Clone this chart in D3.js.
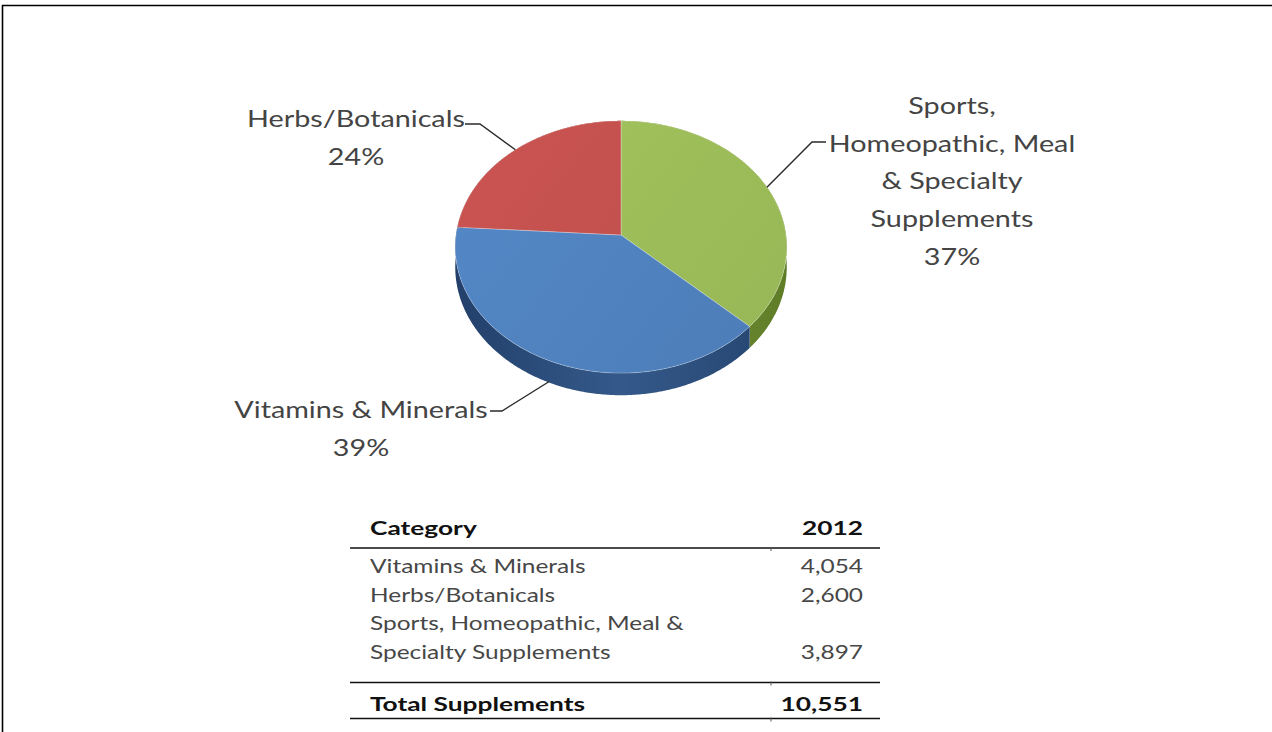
<!DOCTYPE html>
<html>
<head>
<meta charset="utf-8">
<script src="https://cdn.jsdelivr.net/npm/d3@7/dist/d3.min.js"></script>
<style>
  html, body { margin: 0; padding: 0; background: #fff; }
  svg { display: block; }
</style>
</head>
<body>
<svg id="chart" width="1272" height="732"></svg>
<script>
// ---- data -------------------------------------------------------------
const categories = ["Vitamins & Minerals", "Herbs/Botanicals", "Sports, Homeopathic, Meal & Specialty Supplements"];
const values2012 = [4054, 2600, 3897];
const sharePct = [39, 24, 37];                 // shares printed on the pie labels
const pieOrder = [2, 0, 1];                    // clockwise from 12 o'clock
const pieLabelLines = [
  ["Vitamins & Minerals"],
  ["Herbs/Botanicals"],
  ["Sports,", "Homeopathic, Meal", "& Specialty", "Supplements"]
];
const tableRowLines = [
  ["Vitamins & Minerals"],
  ["Herbs/Botanicals"],
  ["Sports, Homeopathic, Meal &", "Specialty Supplements"]
];
const tableHeader = ["Category", "2012"];
const totalLabel = "Total Supplements";

// ---- styling ----------------------------------------------------------
const topColors  = ["#4f81bd", "#c0504d", "#9bbb59"];
const sideColors = [["#22406a", "#34598a", "#25446e"], ["#7d2d2b", "#9a3b38", "#7d2d2b"], ["#5d7a25", "#7b9a3c", "#5f7c27"]];
const FONT = "Lato, 'Open Sans', sans-serif";
const SX_LABEL = 1.25;                         // horizontal stretch of the lettering
const SX_TABLE = 1.30;
const SX_TABLE_BOLD = 1.40;

const svg = d3.select("#chart");
const defs = svg.append("defs");

// frame
svg.append("path")
  .attr("d", "M2.5,732 V5.5 H1272")
  .attr("fill", "none").attr("stroke", "#000").attr("stroke-width", 1.6);

// ---- 3-D pie with perspective ----------------------------------------
const CX = 621, CY = 235, RX = 165, RY = 125, P = 0.095, DEPTH = 20;
function proj(a, dz = 0) {
  const u = Math.sin(a), v = -Math.cos(a);
  const k = 1 / (1 - P * v);
  return [CX + RX * u * k, CY + RY * v * k + dz * k];
}
function arcPts(a0, a1, dz) {
  const n = Math.max(2, Math.ceil((a1 - a0) / 0.01));
  return d3.range(n + 1).map(i => proj(a0 + (a1 - a0) * i / n, dz));
}

const pieData = d3.pie().sort(null).value(i => sharePct[i])(pieOrder);

sideColors.forEach((c, i) => {
  const g = defs.append("linearGradient").attr("id", "side" + i)
    .attr("gradientUnits", "userSpaceOnUse")
    .attr("x1", CX - RX).attr("x2", CX + RX).attr("y1", 0).attr("y2", 0);
  g.append("stop").attr("offset", "0%").attr("stop-color", c[0]);
  g.append("stop").attr("offset", "50%").attr("stop-color", c[1]);
  g.append("stop").attr("offset", "100%").attr("stop-color", c[2]);
});
topColors.forEach((c, i) => {
  const g = defs.append("linearGradient").attr("id", "top" + i)
    .attr("gradientUnits", "userSpaceOnUse")
    .attr("x1", CX - RX).attr("y1", CY - RY).attr("x2", CX + RX).attr("y2", CY + RY);
  g.append("stop").attr("offset", "0%").attr("stop-color", d3.color(c).brighter(0.15));
  g.append("stop").attr("offset", "100%").attr("stop-color", d3.color(c).darker(0.08));
});

const line = d3.line();
const pieG = svg.append("g");

// side walls
pieG.selectAll("path.side").data(pieData).join("path")
  .attr("class", "side")
  .attr("d", d => {
    const top = arcPts(d.startAngle, d.endAngle, 0);
    const bot = arcPts(d.startAngle, d.endAngle, DEPTH).reverse();
    return line(top.concat(bot)) + "Z";
  })
  .attr("fill", d => `url(#side${d.data})`);

// top faces
pieG.selectAll("path.top").data(pieData).join("path")
  .attr("class", "top")
  .attr("d", d => line([[CX, CY]].concat(arcPts(d.startAngle, d.endAngle, 0))) + "Z")
  .attr("fill", d => `url(#top${d.data})`)
  .attr("stroke", "rgba(255,255,255,0.35)").attr("stroke-width", 0.8);

// ---- slice labels with leader lines -----------------------------------
const labelLayout = {
  0: { elbow: [502, 411], end: [490, 411], cx: 361, y0: 418 },
  1: { elbow: [480, 124], end: [465, 124], cx: 356, y0: 127 },
  2: { elbow: [812, 142], end: [826, 142], cx: 952, y0: 114 }
};
const LH = 37.7;

function stretchedText(parent, x, y, str, opts) {
  const g = parent.append("g").attr("transform", `translate(${x},${y}) scale(${opts.sx},1)`);
  return g.append("text")
    .attr("x", 0).attr("y", 0)
    .attr("text-anchor", opts.anchor || "middle")
    .attr("font-family", FONT)
    .attr("font-size", opts.size)
    .attr("font-weight", opts.weight || 400)
    .attr("fill", opts.fill)
    .text(str);
}

const labG = svg.append("g");
pieData.forEach(d => {
  const i = d.data, L = labelLayout[i];
  const mid = (d.startAngle + d.endAngle) / 2;
  const front = Math.cos(mid) < -0.3;
  const anchor = proj(mid, front ? DEPTH * 0.95 : 0);
  labG.append("path")
    .attr("d", line([anchor, L.elbow, L.end]))
    .attr("fill", "none").attr("stroke", "#2a2a2a").attr("stroke-width", 1.4);
  const lines = pieLabelLines[i].concat([d3.format(".0f")(sharePct[i]) + "%"]);
  lines.forEach((s, j) => stretchedText(labG, L.cx, L.y0 + j * LH, s, { size: 23, fill: "#444", sx: SX_LABEL }));
});

// ---- table -------------------------------------------------------------
const T = { x0: 350, x1: 880, textX: 370, numX: 863, headY: 535, headLine: 548, rowY: 573, rowH: 28.5 };
const tab = svg.append("g");
const fmt = d3.format(",");
const bold = { size: 18.8, weight: 700, fill: "#111", sx: SX_TABLE_BOLD };
const plain = { size: 18.8, fill: "#474747", sx: SX_TABLE };

stretchedText(tab, T.textX, T.headY, tableHeader[0], { ...bold, anchor: "start" });
stretchedText(tab, T.numX, T.headY, tableHeader[1], { ...bold, anchor: "end" });

let y = T.rowY;
categories.forEach((c, i) => {
  const ls = tableRowLines[i];
  ls.forEach((s, j) => stretchedText(tab, T.textX, y + j * T.rowH, s, { ...plain, anchor: "start" }));
  stretchedText(tab, T.numX, y + (ls.length - 1) * T.rowH, fmt(values2012[i]), { ...plain, anchor: "end" });
  y += ls.length * T.rowH;
});
const lastRowY = y - T.rowH;
const sepY = lastRowY + 24;
const totalY = sepY + 28;
const bottomY = totalY + 8;
stretchedText(tab, T.textX, totalY, totalLabel, { ...bold, anchor: "start" });
stretchedText(tab, T.numX, totalY, fmt(d3.sum(values2012)), { ...bold, anchor: "end" });

[T.headLine, sepY, bottomY].forEach(ly => {
  tab.append("line").attr("x1", T.x0).attr("x2", T.x1).attr("y1", ly).attr("y2", ly)
    .attr("stroke", "#111").attr("stroke-width", 1.6);
  tab.append("line").attr("x1", 771).attr("x2", 771).attr("y1", ly - 1).attr("y2", ly + 3)
    .attr("stroke", "#555").attr("stroke-width", 1);
});
</script>
</body>
</html>
